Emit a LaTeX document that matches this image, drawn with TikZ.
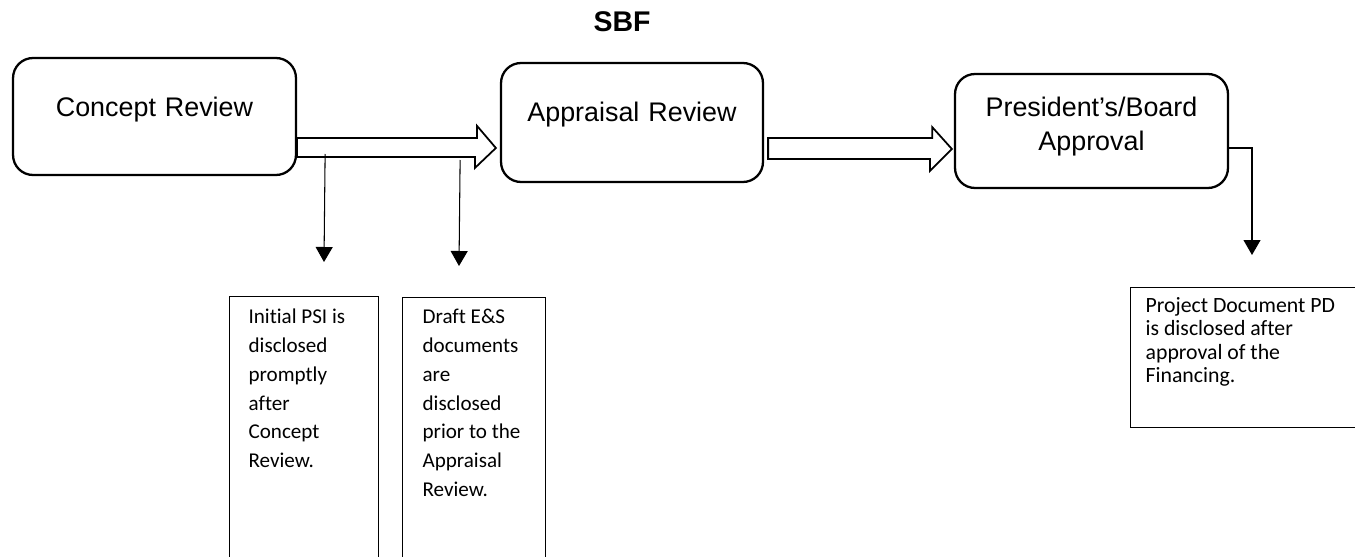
\documentclass[tikz,border=0pt]{standalone}
\usepackage{fontspec}
\setmainfont{Liberation Sans}
\newfontfamily\calibri[Ligatures=NoCommon]{Carlito}
\usetikzlibrary{arrows.meta,calc}

\begin{document}
\begin{tikzpicture}[x=0.02cm, y=-0.02cm,
    stage/.style={draw, rounded corners=0.4cm, line width=1.3pt, text width=5cm, align=center, text height=0.5cm, font=\fontsize{15.3}{19.8}\selectfont},
    blockarrow/.style={draw, line width=1pt, line join=miter},
    thinarrow/.style={line width=0.6pt, -{Triangle[width=0.34cm,length=0.3cm]}},
    note/.style={draw, line width=0.7pt, anchor=north west, align=flush left, inner ysep=0pt, font=\calibri\fontsize{12}{16.4}\selectfont}]

    \useasboundingbox (0,0) rectangle (1355,557);

    % Title
    \node[font=\bfseries\fontsize{16.2}{19}\selectfont] (title) at (622,22) {SBF};

    % Review stages
    \node[stage, minimum width=5.66cm, minimum height=2.34cm, text depth=0.48cm] (cr) at (154.5,116.5) {Concept Review};
    \node[stage, minimum width=5.24cm, minimum height=2.38cm, text depth=0.52cm] (ar) at (632,122.5) {Appraisal Review};
    \node[stage, minimum width=5.46cm, minimum height=2.28cm, text depth=1.1cm] (pa) at (1091.5,131) {President’s/Board\\ Approval};

    % Hollow arrows between the stages
    \draw[blockarrow] ($(cr.east)+(0,21.5)$) -- ++(180,0) -- ++(0,-12) -- ($(ar.west)+(-4,25.5)$) -- ++(-21,20) -- ++(0,-11) -- ($(cr.east)+(0,40.5)$) -- cycle;
    \draw[blockarrow] ($(ar.east)+(4,15.5)$) -- ++(164,0) -- ++(0,-11) -- ($(pa.west)+(-2,18)$) -- ++(-22,22) -- ++(0,-12) -- ($(ar.east)+(4,36.5)$) -- cycle;

    % Disclosure notes
    \node[note, text width=2.22cm, inner xsep=0.38cm, text height=0.54cm, text depth=4.94cm] (psi) at (229,296) {Initial PSI is\\ disclosed\\ promptly\\ after\\ Concept\\ Review.};
    \node[note, text width=2.06cm, inner xsep=0.4cm, text height=0.52cm, text depth=4.94cm] (es) at (402,297) {Draft E\&S\\ documents\\ are\\ disclosed\\ prior to the\\ Appraisal\\ Review.};
    \node[note, text width=4.5cm, inner xsep=0.3cm, text height=0.5cm, text depth=2.3cm, font=\calibri\fontsize{12.4}{13.3}\selectfont] (pd) at (1130,287) {Project Document PD\\ is disclosed after\\ approval of the\\ Financing.};

    % Thin arrows down to the notes
    \draw[thinarrow] ($(cr.east)+(28,37.5)$) -- ($(psi.north west)+(95,-34)$);
    \draw[thinarrow] ($(cr.east)+(163,43.5)$) -- ($(es.north west)+(57,-31)$);
    \draw[thinarrow] ($(pa.east)+(0,17)$) -| ($(pd.north west)+(122,-32)$);
\end{tikzpicture}
\end{document}
